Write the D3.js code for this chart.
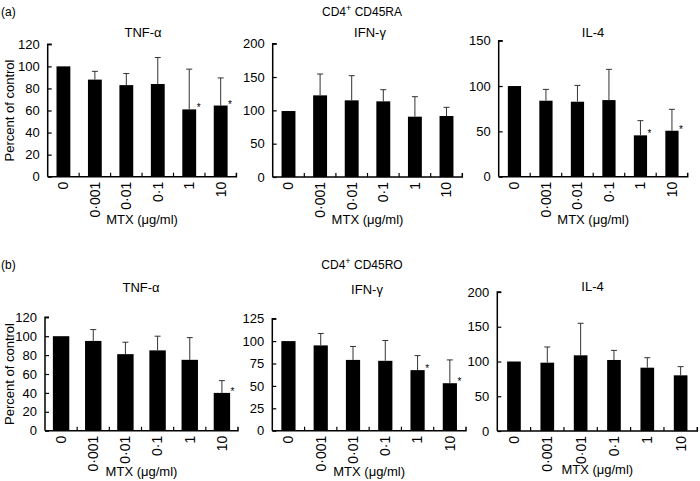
<!DOCTYPE html>
<html><head><meta charset="utf-8">
<script src="https://cdn.jsdelivr.net/npm/d3@7"></script>
<style>body{margin:0;background:#fff}svg{display:block}text{font-family:"Liberation Sans",Arial,sans-serif;fill:#000}</style>
</head><body><svg id="c" width="700" height="481"></svg>
<script>
const categories = ["0","0·001","0·01","0·1","1","10"];
// (a) CD4+ CD45RA
const aTNF = [100, 88, 83, 84, 61, 64.5];
const aTNFerr = [100, 95.5, 93.5, 108, 97.5, 89.5];
const aIFN = [99, 122.5, 115, 113.5, 90.5, 91.5];
const aIFNerr = [99, 154.5, 152, 131, 120.5, 104.5];
const aIL4 = [100, 83.8, 82.7, 84.5, 45.6, 50.7];
const aIL4err = [100, 96.3, 100.7, 118.4, 61.8, 74.3];
// (b) CD4+ CD45RO
const bTNF = [100, 95, 81, 85, 75, 40];
const bTNFerr = [100, 107, 93.6, 100, 98.5, 53];
const bIFN = [100, 95.2, 79, 78, 67.6, 53];
const bIFNerr = [100, 108.5, 94, 100.7, 83.8, 79];
const bIL4 = [100, 98.3, 108.9, 102.2, 91.1, 80.1];
const bIL4err = [100, 120.9, 155, 116, 105.5, 92.6];
// significance flags
const aTNFsig = [0,0,0,0,1,1], aIFNsig = [0,0,0,0,0,0], aIL4sig = [0,0,0,0,1,1];
const bTNFsig = [0,0,0,0,0,1], bIFNsig = [0,0,0,0,1,1], bIL4sig = [0,0,0,0,0,0];
const yTicksTNF = [0,20,40,60,80,100,120];
const yTicks200 = [0,50,100,150,200];
const yTicks150 = [0,50,100,150];
const yTicks125 = [0,25,50,75,100,125];

const svg = d3.select("#c");

const panels = [
  {title:"TNF-α", v:aTNF, e:aTNFerr, s:aTNFsig, ticks:yTicksTNF, x0:47.7, x1:236.4, yT:44.3, yB:176.7, bw:0.44, ty:37, tx:143, ylab:true, my:224},
  {title:"IFN-γ", v:aIFN, e:aIFNerr, s:aIFNsig, ticks:yTicks200, x0:272.7, x1:462.3, yT:43.7, yB:177, bw:0.44, ty:37, tx:370, my:224},
  {title:"IL-4", v:aIL4, e:aIL4err, s:aIL4sig, ticks:yTicks150, x0:498.7, x1:687.7, yT:40.7, yB:176.7, bw:0.42, ty:37, tx:593, my:224},
  {title:"TNF-α", v:bTNF, e:bTNFerr, s:bTNFsig, ticks:yTicksTNF, x0:45, x1:238, yT:317.3, yB:430.7, bw:0.51, ty:292, tx:141, ylab:true, my:476},
  {title:"IFN-γ", v:bIFN, e:bIFNerr, s:bIFNsig, ticks:yTicks125, x0:272.3, x1:466, yT:318.7, yB:430.7, bw:0.44, ty:294, tx:367, my:476},
  {title:"IL-4", v:bIL4, e:bIL4err, s:bIL4sig, ticks:yTicks200, x0:497.3, x1:697.3, yT:292, yB:431, bw:0.41, ty:291, tx:592.5, my:474}
];

panels.forEach(p => {
  const g = svg.append("g");
  const x = d3.scaleBand().domain(categories).range([p.x0, p.x1]);
  const ymax = d3.max(p.ticks);
  const y = d3.scaleLinear().domain([0, ymax]).range([p.yB, p.yT]);
  const bw = x.bandwidth()*p.bw;
  const cx = c => x(c) + x.bandwidth()/2;

  // bars
  g.selectAll("rect.bar").data(categories).enter().append("rect")
    .attr("x", c => cx(c) - bw/2).attr("width", bw)
    .attr("y", (c,i) => y(p.v[i])).attr("height", (c,i) => p.yB - y(p.v[i]))
    .attr("fill", "#000");
  // error bars
  categories.forEach((c,i) => {
    if (p.e[i] > p.v[i] + 0.5) {
      g.append("line").attr("x1", cx(c)).attr("x2", cx(c)).attr("y1", y(p.v[i])).attr("y2", y(p.e[i]))
        .attr("stroke", "#333").attr("stroke-width", 1);
      g.append("line").attr("x1", cx(c)-3).attr("x2", cx(c)+3).attr("y1", y(p.e[i])).attr("y2", y(p.e[i]))
        .attr("stroke", "#333").attr("stroke-width", 1);
    }
    if (p.s[i]) {
      g.append("text").attr("x", cx(c)+bw/2+0.5).attr("y", y(p.v[i])+2)
        .attr("font-size", 10).text("*");
    }
  });

  // y axis
  const ya = d3.axisLeft(y).tickValues(p.ticks).tickSize(-4).tickPadding(8);
  const yg = g.append("g").attr("transform", `translate(${p.x0},0)`).call(ya);
  yg.select(".domain").attr("d", `M${4},${p.yT}H0V${p.yB}`).attr("stroke-width", 1.5);
  yg.selectAll(".tick line").attr("stroke-width", 1.2);
  yg.selectAll("text").attr("font-size", 13).attr("font-family", '"Liberation Sans",Arial,sans-serif');

  // x axis
  const xa = d3.axisBottom(x).tickSize(0).tickPadding(0);
  const xg = g.append("g").attr("transform", `translate(0,${p.yB})`).call(xa);
  xg.select(".domain").attr("d", `M${p.x0},0H${p.x1}V-4`).attr("stroke-width", 1.5);
  xg.selectAll(".tick line").remove();
  xg.selectAll(".tick text").attr("transform", "rotate(-90)").attr("text-anchor", "end")
    .attr("x", -5).attr("y", 0).attr("dy", "0.35em").attr("font-size", 14)
    .attr("font-family", '"Liberation Sans",Arial,sans-serif');
  // inward boundary ticks
  const bounds = categories.slice(1).map(c => x(c));
  g.selectAll("line.bt").data(bounds).enter().append("line")
    .attr("x1", d => d).attr("x2", d => d).attr("y1", p.yB).attr("y2", p.yB-4)
    .attr("stroke", "#000").attr("stroke-width", 1.2);

  // titles
  g.append("text").attr("x", p.tx).attr("y", p.ty).attr("text-anchor", "middle").attr("font-size", 13).text(p.title);
  g.append("text").attr("x", (p.x0+p.x1)/2).attr("y", p.my).attr("text-anchor", "middle").attr("font-size", 13).text("MTX (μg/ml)");
  if (p.ylab) {
    const cy = (p.yT + p.yB)/2;
    g.append("text").attr("transform", `translate(14,${cy}) rotate(-90)`).attr("text-anchor", "middle")
      .attr("font-size", 13).text("Percent of control");
  }
});

// panel labels and group titles
svg.append("text").attr("x", 1).attr("y", 16).attr("font-size", 12).text("(a)");
svg.append("text").attr("x", 1).attr("y", 269).attr("font-size", 12).text("(b)");
function groupTitle(xc, yb, suffix) {
  const t = svg.append("text").attr("x", xc).attr("y", yb).attr("text-anchor", "middle").attr("font-size", 12);
  t.append("tspan").text("CD4");
  t.append("tspan").attr("dy", -5).attr("font-size", 9).text("+");
  t.append("tspan").attr("dy", 5).text(" " + suffix);
}
groupTitle(362, 16, "CD45RA");
groupTitle(362, 269, "CD45RO");
</script></body></html>
